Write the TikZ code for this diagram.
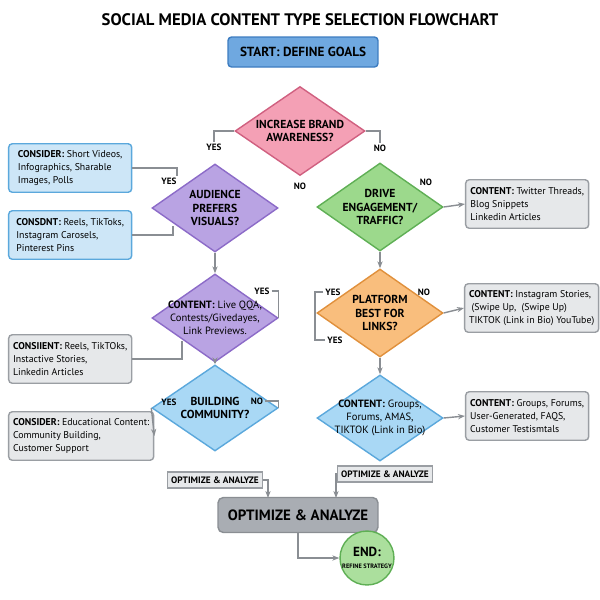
\documentclass[tikz,border=0pt]{standalone}
\usepackage{fontspec}
\setmainfont{PT Sans}
\usetikzlibrary{shapes.geometric,arrows.meta,positioning}
\definecolor{smblue}{HTML}{6FA8E0}
\definecolor{smbluedk}{HTML}{3D7CC0}
\definecolor{smpink}{HTML}{F4A0B5}
\definecolor{smpinkdk}{HTML}{D06080}
\definecolor{smpurple}{HTML}{B9A3E3}
\definecolor{smpurpledk}{HTML}{8C6BC8}
\definecolor{smgreen}{HTML}{9CD98C}
\definecolor{smgreendk}{HTML}{5FAF55}
\definecolor{smorange}{HTML}{F9BE7D}
\definecolor{smorangedk}{HTML}{E0903C}
\definecolor{smsky}{HTML}{A9D8F5}
\definecolor{smskydk}{HTML}{5BA8DC}
\definecolor{smcons}{HTML}{CDE6F7}
\definecolor{smgray}{HTML}{E6E8EA}
\definecolor{smgraydk}{HTML}{9A9EA3}
\definecolor{smmain}{HTML}{A9ADB3}
\definecolor{smline}{HTML}{8A8E93}

\begin{document}
\begin{tikzpicture}[
    x=0.02cm, y=-0.02cm,
    dia/.style={diamond, draw, thick, minimum width=2.52cm, minimum height=1.76cm, inner sep=0pt},
    dtext/.style={align=center, font=\fontsize{6.6}{7.6}\selectfont\bfseries},
    note/.style={rectangle, rounded corners=2pt, draw=smgraydk, fill=smgray, thick, minimum width=2.46cm, minimum height=0.97cm, align=left, font=\fontsize{5.6}{7.3}\selectfont, inner sep=2.5pt, anchor=west},
    cons/.style={note, draw=smskydk, fill=smcons},
    lbl/.style={font=\fontsize{5.2}{6}\selectfont\bfseries, inner sep=1pt},
    conn/.style={draw=smline, thick},
    arrow/.style={conn, -{Stealth[length=4pt]}}
]
    \useasboundingbox (0,0) rectangle (600,600);

    % Title and start
    \node[font=\fontsize{9.5}{11}\selectfont\bfseries] (title) at (300,20) {SOCIAL MEDIA CONTENT TYPE SELECTION FLOWCHART};
    \node[rectangle, rounded corners=2pt, draw=smbluedk, fill=smblue, thick, minimum width=3cm, minimum height=0.6cm, font=\fontsize{7.5}{9}\selectfont\bfseries] (start) at (303,52) {START: DEFINE GOALS};

    % Top decision
    \node[dia, draw=smpinkdk, fill=smpink, minimum width=2.6cm, minimum height=1.78cm] (brand) at (300,131) {};
    \node[dtext] (brandt) at (brand) {INCREASE BRAND\\AWARENESS?};
    \node[lbl] (yesA) at (214,147) {YES};
    \node[lbl] (noA) at (380,148) {NO};
    \node[lbl] (noB) at (300,186) {NO};
    \draw[conn] (brand.west) -| (yesA.north);
    \draw[conn] (brand.east) -| (noA.north);

    % Left column
    \node[dia, draw=smpurpledk, fill=smpurple] (visual) at (215,208) {};
    \node[dtext] (visualt) at (visual) {AUDIENCE\\PREFERS\\VISUALS?};
    \node[dia, draw=smpurpledk, fill=smpurple] (engage) at (215,318) {};
    \node[dtext, font=\fontsize{6}{7.4}\selectfont] (engaget) at (engage) {\textbf{CONTENT:} Live QQA,\\Contests/Givedayes,\\Link Previews.};
    \node[dia, draw=smskydk, fill=smsky, minimum height=1.72cm] (community) at (215,408) {};
    \node[dtext] (communityt) at (community) {BUILDING\\COMMUNITY?};

    \node[cons] (consA) at (8,168) {\textbf{CONSIDER:} Short Videos,\\Infographics, Sharable\\Images, Polls};
    \node[cons] (consB) at (8,235) {\textbf{CONSDNT:} Reels, TikToks,\\Instagram Carosels,\\Pinterest Pins};
    \node[note] (consC) at (8,359) {\textbf{CONSIIENT:} Reels, TikTOks,\\Instactive Stories,\\Linkedin Articles};
    \node[note] (consD) at (8,436) {\textbf{CONSIDER:} Educational Content:\\Community Building,\\Customer Support};

    \node[lbl] (yesB) at (169,181) {YES};
    \node[lbl] (yesC) at (262,291) {YES};
    \node[lbl] (yesD) at (169,402) {YES};
    \node[lbl] (noC) at (257,401) {NO};

    \draw[conn] (consA.east) -| (177,176);
    \draw[conn] (consB.east) -| (173,226);
    \draw[conn] (consC.east) -| (182,341);
    \draw[arrow] (visual.south) -- (engage.north);
    \draw[arrow] (engage.south) -- (community.north);
    \draw[conn] (yesC.east) -| (engage.east);
    \draw[conn] (noC.east) -| (community.east);
    \draw[arrow] (community.west) -- (consD.east);

    % Right column
    \node[dia, draw=smgreendk, fill=smgreen] (drive) at (380,207) {};
    \node[dtext] (drivet) at (drive) {DRIVE\\ENGAGEMENT/\\TRAFFIC?};
    \node[dia, draw=smorangedk, fill=smorange] (links) at (380,313) {};
    \node[dtext] (linkst) at (links) {PLATFORM\\BEST FOR\\LINKS?};
    \node[dia, draw=smskydk, fill=smsky, minimum height=1.72cm] (groups) at (380,418) {};
    \node[dtext, font=\fontsize{6}{7.4}\selectfont] (groupst) at (groups) {\textbf{CONTENT:} Groups,\\Forums, AMAS,\\TIKTOK (Link in Bio)};

    \node[note] (contA) at (465,204) {\textbf{CONTENT:} Twitter Threads,\\Blog Snippets\\Linkedin Articles};
    \node[note] (contB) at (464,308) {\textbf{CONTENT:} Instagram Stories,\\\ (Swipe Up,\ \ (Swipe Up)\\TIKTOK (Link in Bio) YouTube)};
    \node[note] (contC) at (465,416) {\textbf{CONTENT:} Groups, Forums,\\User-Generated, FAQS,\\Customer Testismtals};

    \node[lbl] (noD) at (426,182) {NO};
    \node[lbl] (noE) at (424,292) {NO};
    \node[lbl] (yesE) at (333,292) {YES};
    \node[lbl] (yesF) at (335,340) {YES};

    \draw[arrow] (drive.south) -- (links.north);
    \draw[arrow] (links.south) -- (groups.north);
    \draw[arrow] (drive.east) -- (contA.west);
    \draw[arrow] (links.east) -- (contB.west);
    \draw[arrow] (groups.east) -- (contC.west);
    \draw[conn] (yesE.west) -| (315,316) |- (yesF.west);

    % Bottom
    \node[rectangle, draw=smgraydk, fill=smgray, thick, font=\fontsize{5.3}{6}\selectfont\bfseries, inner sep=2pt, minimum height=0.32cm] (optA) at (215,480) {OPTIMIZE \& ANALYZE};
    \node[rectangle, draw=smgraydk, fill=smgray, thick, font=\fontsize{5.3}{6}\selectfont\bfseries, inner sep=2pt, minimum height=0.32cm] (optB) at (385,474) {OPTIMIZE \& ANALYZE};
    \node[rectangle, rounded corners=3pt, draw=smline, fill=smmain, thick, minimum width=3.2cm, minimum height=0.7cm, font=\fontsize{8.5}{10}\selectfont\bfseries] (optimize) at (298,515) {OPTIMIZE \& ANALYZE};
    \node[circle, draw=smgreendk, fill=smgreen!85!white, thick, minimum size=1.06cm, inner sep=0pt, align=center, font=\fontsize{7.5}{8}\selectfont\bfseries] (endn) at (367,558) {END:\\[-1pt]{\fontsize{3.6}{4}\selectfont REFINE STRATEGY}};

    \draw[arrow] (optA.east) -| (268,498);
    \draw[arrow] (optB.west) -| (336,498);
    \draw[arrow] (optimize.south) |- (endn.west);
\end{tikzpicture}
\end{document}
